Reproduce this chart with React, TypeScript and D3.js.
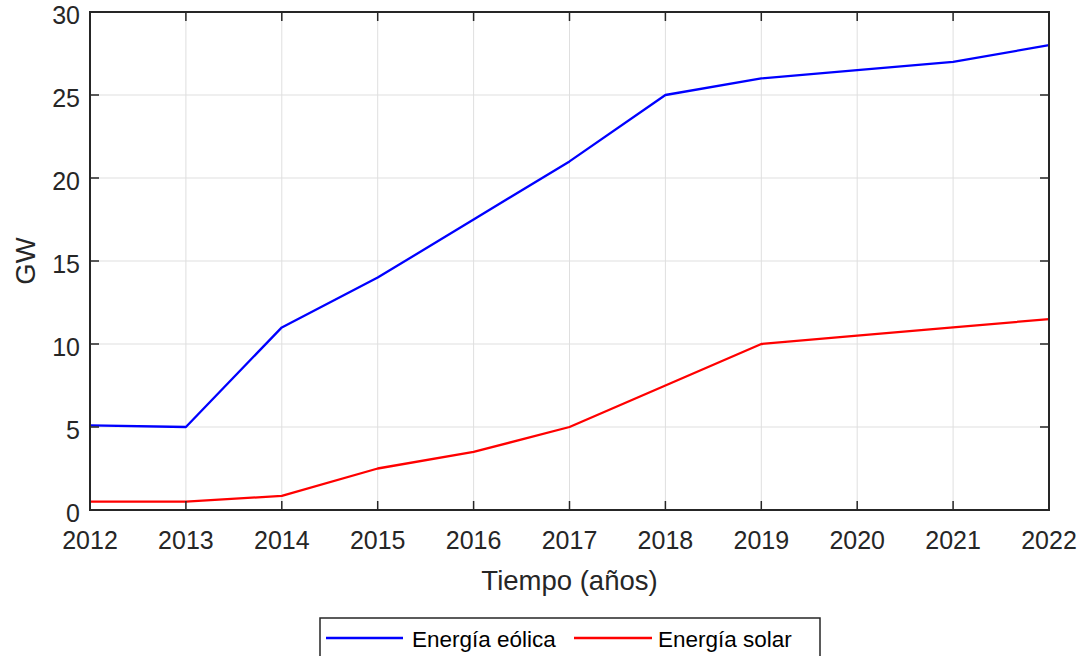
import React from "react";
import * as d3 from "d3";

const years = [2012, 2013, 2014, 2015, 2016, 2017, 2018, 2019, 2020, 2021, 2022];
const wind = [5.1, 5.0, 11, 14, 17.5, 21, 25, 26, 26.5, 27, 28];
const solar = [0.5, 0.5, 0.85, 2.5, 3.5, 5, 7.5, 10, 10.5, 11, 11.5];
const yTicks = [0, 5, 10, 15, 20, 25, 30];
const seriesNames = ["Energía eólica", "Energía solar"];
const seriesColors = ["#0000ff", "#ff0000"];

const W = 1083, H = 656;
const L = 90, R = 1049, T = 12, B = 510;
const axisColor = "#262626";
const font = "'Liberation Sans', Arial, Helvetica, sans-serif";

export default function App() {
  const x = d3.scaleLinear().domain([2012, 2022]).range([L, R]);
  const y = d3.scaleLinear().domain([0, 30]).range([B, T]);
  const line = d3.line<number>().x((_, i) => x(years[i])).y((d) => y(d));
  const series = [wind, solar];
  const tl = 9;
  return (
    <div style={{ position: "fixed", left: 0, top: 0 }}>
      <svg width={W} height={H} style={{ display: "block", background: "#fff" }} fontFamily={font}>
        <rect x={0} y={0} width={W} height={H} fill="#fff" />
        {/* grid */}
        {years.map((yr) => (
          <line key={"gx" + yr} x1={x(yr)} x2={x(yr)} y1={T} y2={B} stroke="#dfdfdf" strokeWidth={1} />
        ))}
        {yTicks.map((v) => (
          <line key={"gy" + v} x1={L} x2={R} y1={y(v)} y2={y(v)} stroke="#dfdfdf" strokeWidth={1} />
        ))}
        {/* series */}
        {series.map((s, i) => (
          <path key={"s" + i} d={line(s) || ""} fill="none" stroke={seriesColors[i]} strokeWidth={2.3} strokeLinejoin="round" />
        ))}
        {/* ticks */}
        {years.map((yr) => (
          <g key={"tx" + yr}>
            <line x1={x(yr)} x2={x(yr)} y1={B} y2={B - tl} stroke={axisColor} strokeWidth={1.5} />
            <line x1={x(yr)} x2={x(yr)} y1={T} y2={T + tl} stroke={axisColor} strokeWidth={1.5} />
            <text x={x(yr)} y={549} textAnchor="middle" fontSize={25} fill={axisColor}>{yr}</text>
          </g>
        ))}
        {yTicks.map((v) => (
          <g key={"ty" + v}>
            <line x1={L} x2={L + tl} y1={y(v)} y2={y(v)} stroke={axisColor} strokeWidth={1.5} />
            <line x1={R} x2={R - tl} y1={y(v)} y2={y(v)} stroke={axisColor} strokeWidth={1.5} />
            <text x={80} y={y(v)} dy="0.48em" textAnchor="end" fontSize={25} fill={axisColor}>{v}</text>
          </g>
        ))}
        {/* axes box */}
        <rect x={L} y={T} width={R - L} height={B - T} fill="none" stroke={axisColor} strokeWidth={2} />
        {/* labels */}
        <text x={(L + R) / 2} y={590} textAnchor="middle" fontSize={27.5} fill={axisColor}>Tiempo (años)</text>
        <text transform={`translate(35,${(T + B) / 2}) rotate(-90)`} textAnchor="middle" fontSize={27.5} fill={axisColor}>GW</text>
        {/* legend */}
        <rect x={320} y={618} width={500} height={50} fill="#fff" stroke={axisColor} strokeWidth={1.5} />
        <line x1={326} x2={403} y1={638} y2={638} stroke={seriesColors[0]} strokeWidth={2.3} />
        <text x={412} y={647} fontSize={22.5} fill="#000">{seriesNames[0]}</text>
        <line x1={574} x2={652} y1={638} y2={638} stroke={seriesColors[1]} strokeWidth={2.3} />
        <text x={658} y={647} fontSize={22.5} fill="#000">{seriesNames[1]}</text>
      </svg>
    </div>
  );
}
